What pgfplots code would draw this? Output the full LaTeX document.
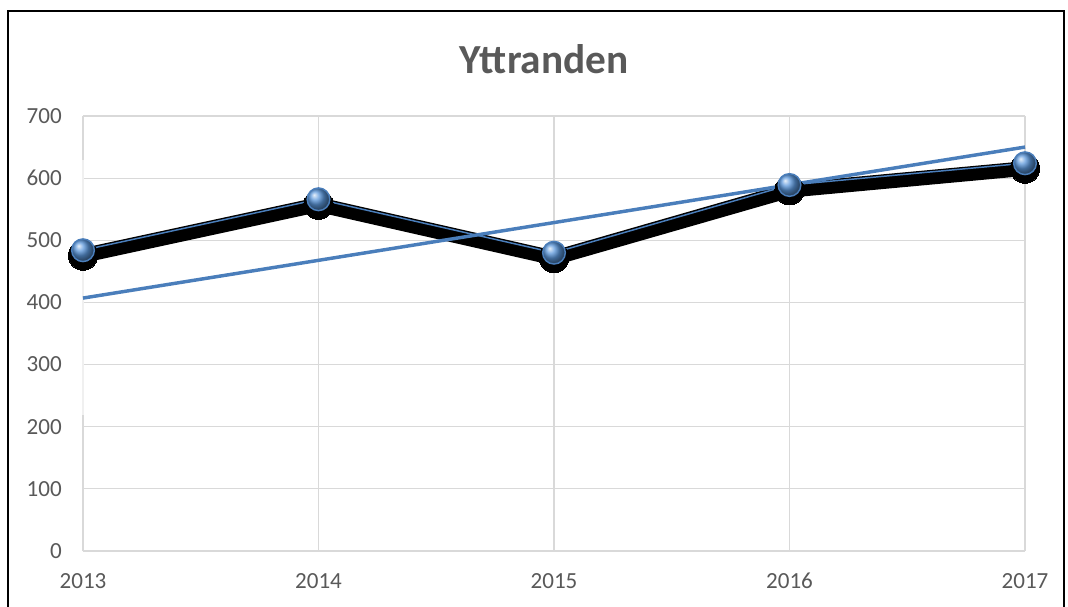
\documentclass[border=0pt]{standalone}
\usepackage{pgfplots}
\pgfplotsset{compat=1.18}
\usepackage{fontspec}
\setmainfont{Carlito}
\definecolor{txtgray}{HTML}{595959}
\definecolor{gridgray}{HTML}{D9D9D9}
\definecolor{gridfaint}{HTML}{F0F0F0}
\definecolor{lineblue}{HTML}{4A7EBB}
\definecolor{ballblue}{HTML}{5A96DA}
\begin{document}
\begin{tikzpicture}
\useasboundingbox (-62.25pt,-42pt) rectangle (738.75pt,413.25pt);
\begin{axis}[
  at={(0,0)}, anchor=south west,
  scale only axis, width=706.5pt, height=326.25pt,
  xmin=2013, xmax=2017, ymin=0, ymax=700,
  xtick={2013,2014,2015,2016,2017},
  ytick={0,100,...,700},
  grid=major,
  grid style={color=gridgray, line width=0.8pt},
  axis line style={draw=none},
  major tick length=0pt,
  clip=false,
  /pgf/number format/assume math mode=true,
  xticklabel={\pgfmathprintnumber[1000 sep={},fixed]{\tick}},
  ticklabel style={font=\fontsize{17.3}{20}\selectfont, text=txtgray, inner sep=0pt},
  xticklabel style={anchor=center, yshift=-22.5pt},
  yticklabel style={anchor=east, xshift=-15.75pt},
]
\draw[color=gridfaint, line width=1pt] (axis cs:2013,219) -- (axis cs:2013,629);
% shadow
\addplot[black, line width=11pt, yshift=-4pt, mark=*, mark size=11pt, mark options={draw=none, line width=0pt, fill=black}] coordinates {
(2013,484) (2014,566) (2015,480) (2016,589) (2017,624)};
% data line
\addplot[lineblue, line width=1.1pt, mark=ball, mark size=8.5pt, mark options={ball color=ballblue}] coordinates {
(2013,484) (2014,566) (2015,480) (2016,589) (2017,624)};
% trend line
\addplot[lineblue, line width=2.6pt, no marks] coordinates {(2013,407) (2017,650)};
\end{axis}
\node[text=txtgray, font=\fontsize{31}{36}\selectfont\bfseries] at (345.75pt,369pt) {Yttranden};
\draw[black, line width=1.5pt] (-56.6pt,-45pt) -- (-56.6pt,405pt) -- (735.75pt,405pt) -- (735.75pt,-45pt);
\end{tikzpicture}
\end{document}
